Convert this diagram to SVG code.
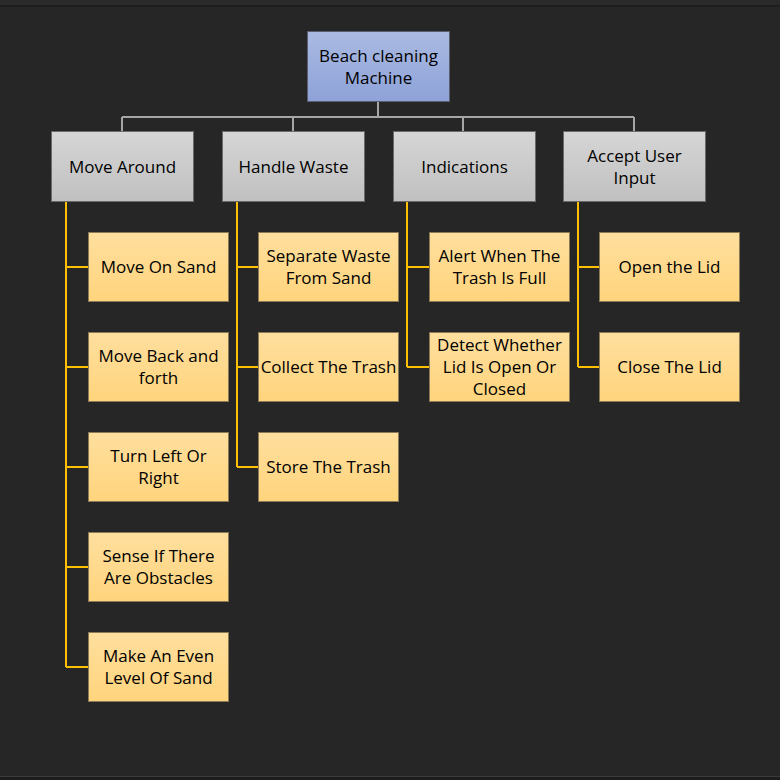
<svg xmlns="http://www.w3.org/2000/svg" width="780" height="780" viewBox="0 0 780 780">
<defs>
<linearGradient id="gRoot" x1="0" y1="0" x2="0" y2="1"><stop offset="0" stop-color="#aabae2"/><stop offset="1" stop-color="#8ea2d8"/></linearGradient>
<linearGradient id="gL1" x1="0" y1="0" x2="0" y2="1"><stop offset="0" stop-color="#d6d6d6"/><stop offset="1" stop-color="#c0c0c0"/></linearGradient>
<linearGradient id="gL2" x1="0" y1="0" x2="0" y2="1"><stop offset="0" stop-color="#ffdf9e"/><stop offset="1" stop-color="#ffd47c"/></linearGradient>
<style>
.root{fill:url(#gRoot);stroke:#5a6070;stroke-width:1}
.l1{fill:url(#gL1);stroke:#6a6a6a;stroke-width:1}
.l2{fill:url(#gL2);stroke:#8a7a55;stroke-width:1}
text{font-family:"Open Sans","Liberation Sans",sans-serif;font-size:17px;fill:#000;text-anchor:middle}
.gray{stroke:#a6a6a6;stroke-width:2;fill:none}
.gold{stroke:#ffc000;stroke-width:2;fill:none}
</style>
</defs>
<rect width="780" height="780" fill="#262626"/>
<rect width="780" height="5" fill="#2a2a2a"/>
<rect y="5" width="780" height="2" fill="#1e1e1e"/>
<rect y="776" width="780" height="1" fill="#3c3c3c"/>
<rect y="777" width="780" height="3" fill="#1c1c1c"/>
<g id="connectors">
<path class="gray" d="M378 101V117M122 117H634M122 117V131M293 117V131M463 117V131M634 117V131"/>
<path class="gold" d="M66 202V667M66 267H88M66 367H88M66 467H88M66 567H88M66 667H88"/>
<path class="gold" d="M237 202V467M237 267H258M237 367H258M237 467H258"/>
<path class="gold" d="M407 202V367M407 267H429M407 367H429"/>
<path class="gold" d="M578 202V367M578 267H599M578 367H599"/>
</g>
<g id="root"><rect class="root" x="307.5" y="31.5" width="142" height="70"/><text x="378.5" y="62">Beach cleaning</text><text x="378.5" y="84">Machine</text></g>
<g id="move-around"><rect class="l1" x="51.5" y="131.5" width="142" height="70"/><text x="122.5" y="173">Move Around</text></g>
<g id="handle-waste"><rect class="l1" x="222.5" y="131.5" width="142" height="70"/><text x="293.5" y="173">Handle Waste</text></g>
<g id="indications"><rect class="l1" x="393.5" y="131.5" width="142" height="70"/><text x="464.5" y="173">Indications</text></g>
<g id="accept-user-input"><rect class="l1" x="563.5" y="131.5" width="142" height="70"/><text x="634.5" y="162">Accept User</text><text x="634.5" y="184">Input</text></g>
<g id="move-on-sand"><rect class="l2" x="88.5" y="232.5" width="140" height="69"/><text x="158.5" y="273">Move On Sand</text></g>
<g id="move-back-forth"><rect class="l2" x="88.5" y="332.5" width="140" height="69"/><text x="158.5" y="362">Move Back and</text><text x="158.5" y="384">forth</text></g>
<g id="turn-left-right"><rect class="l2" x="88.5" y="432.5" width="140" height="69"/><text x="158.5" y="462">Turn Left Or</text><text x="158.5" y="484">Right</text></g>
<g id="sense-obstacles"><rect class="l2" x="88.5" y="532.5" width="140" height="69"/><text x="158.5" y="562">Sense If There</text><text x="158.5" y="584">Are Obstacles</text></g>
<g id="even-level"><rect class="l2" x="88.5" y="632.5" width="140" height="69"/><text x="158.5" y="662">Make An Even</text><text x="158.5" y="684">Level Of Sand</text></g>
<g id="separate-waste"><rect class="l2" x="258.5" y="232.5" width="140" height="69"/><text x="328.5" y="262">Separate Waste</text><text x="328.5" y="284">From Sand</text></g>
<g id="collect-trash"><rect class="l2" x="258.5" y="332.5" width="140" height="69"/><text x="328.5" y="373">Collect The Trash</text></g>
<g id="store-trash"><rect class="l2" x="258.5" y="432.5" width="140" height="69"/><text x="328.5" y="473">Store The Trash</text></g>
<g id="alert-full"><rect class="l2" x="429.5" y="232.5" width="140" height="69"/><text x="499.5" y="262">Alert When The</text><text x="499.5" y="284">Trash Is Full</text></g>
<g id="detect-lid"><rect class="l2" x="429.5" y="332.5" width="140" height="69"/><text x="499.5" y="351">Detect Whether</text><text x="499.5" y="373">Lid Is Open Or</text><text x="499.5" y="395">Closed</text></g>
<g id="open-lid"><rect class="l2" x="599.5" y="232.5" width="140" height="69"/><text x="669.5" y="273">Open the Lid</text></g>
<g id="close-lid"><rect class="l2" x="599.5" y="332.5" width="140" height="69"/><text x="669.5" y="373">Close The Lid</text></g>
</svg>
